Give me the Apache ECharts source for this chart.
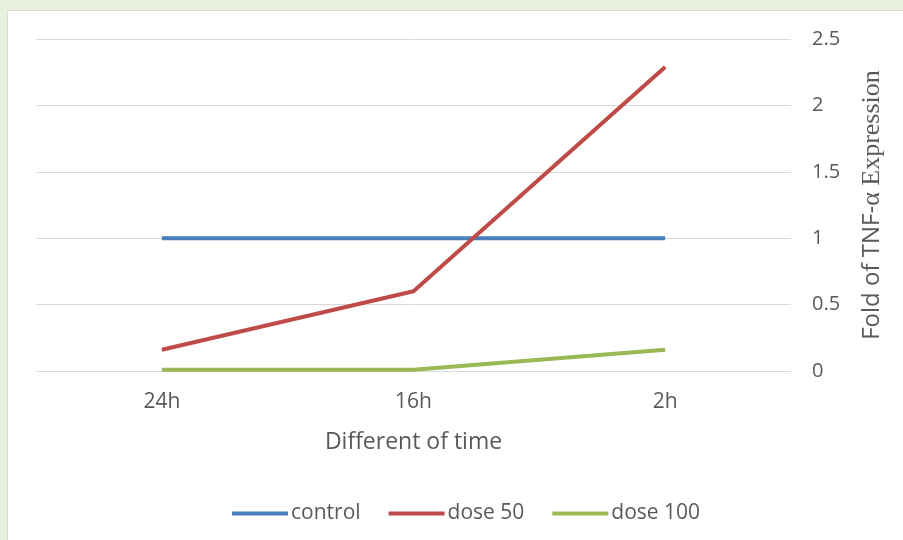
<!DOCTYPE html>
<html><head><meta charset="utf-8">
<script src="https://cdn.jsdelivr.net/npm/echarts@6/dist/echarts.min.js"></script>
<style>
html,body{margin:0;padding:0;background:#e9f0de;}
#wrap{position:absolute;left:7px;top:10px;width:896px;height:530px;background:#fff;border-left:1px solid #d9d9d9;border-top:1px solid #d9d9d9;}
#c{width:903px;height:540px;position:absolute;left:0;top:0;}
</style></head><body>
<div id="wrap"></div>
<div id="c"></div>
<script>
const categories = ['24h', '16h', '2h'];
const control = [1, 1, 1];
const dose50 = [0.16, 0.6, 2.29];
const dose100 = [0.01, 0.01, 0.16];
const yTicks = [0, 0.5, 1, 1.5, 2, 2.5];

const chart = echarts.init(document.getElementById('c'), null, {renderer:'canvas'});
const font = 'Open Sans, Liberation Sans, sans-serif';
const txt = '#595959';
chart.setOption({
  animation:false,
  backgroundColor:'transparent',
  grid:{left:36, right:112, top:39, bottom:169},
  legend:{
    bottom:11, left:227,
    itemWidth:56, itemHeight:4, itemGap:28,
    icon:'rect',
    textStyle:{fontFamily:font, fontSize:21, color:txt, padding:[0,0,0,-2]},
    data:['control','dose 50','dose 100']
  },
  xAxis:{
    type:'category', data:categories, boundaryGap:true,
    axisLine:{show:false}, axisTick:{show:false},
    axisLabel:{fontFamily:font, fontSize:21, color:txt, margin:21},
    name:'Different of time', nameLocation:'middle', nameGap:60,
    nameTextStyle:{fontFamily:font, fontSize:23, color:txt}
  },
  yAxis:{
    type:'value', position:'right', min:0, max:2.5, interval:0.5,
    axisLine:{show:false}, axisTick:{show:false},
    splitLine:{lineStyle:{color:'#d9d9d9', width:1}},
    axisLabel:{fontFamily:font, fontSize:20, color:txt, margin:21,
      formatter:v=>String(v)},
    name:'{a|Fold of TNF-}{b|α Expression}', nameLocation:'middle', nameGap:68, nameRotate:90,
    nameTextStyle:{rich:{
      a:{fontFamily:font, fontSize:24, color:txt},
      b:{fontFamily:'Liberation Serif, serif', fontSize:26, color:txt}
    }}
  },
  series:[
    {name:'control', type:'line', data:control, symbol:'none', lineStyle:{width:4, color:'#4a7ebb'}, itemStyle:{color:'#4a7ebb'}},
    {name:'dose 50', type:'line', data:dose50, symbol:'none', lineStyle:{width:4, color:'#be4b48'}, itemStyle:{color:'#be4b48'}},
    {name:'dose 100', type:'line', data:dose100, symbol:'none', lineStyle:{width:4, color:'#98b954'}, itemStyle:{color:'#98b954'}}
  ]
});
</script>
</body></html>
